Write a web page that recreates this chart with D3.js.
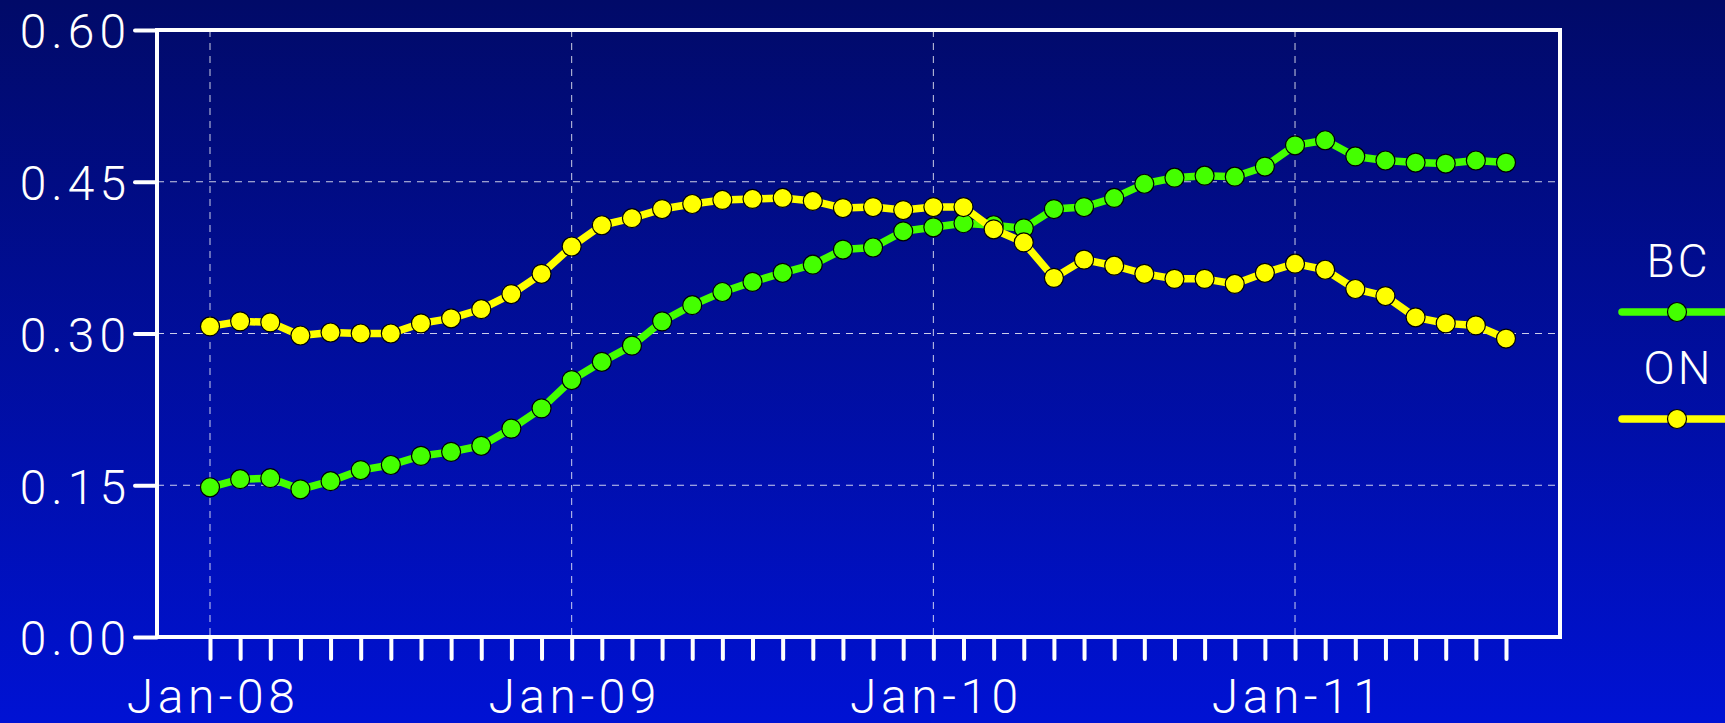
<!DOCTYPE html>
<html>
<head>
<meta charset="utf-8">
<script src="https://cdn.jsdelivr.net/npm/d3@7"></script>
<style>
  html, body { margin: 0; padding: 0; overflow: hidden; background: #000a6a; }
  svg { display: block; }
  text { font-family: Roboto, "Open Sans", "DejaVu Sans", sans-serif; font-weight: 300; fill: #ffffff; }
</style>
</head>
<body>
<svg id="chart" width="1725" height="723"></svg>
<script>
// Monthly series, Jan-2008 to Aug-2011
const months = [
  "2008-01","2008-02","2008-03","2008-04","2008-05","2008-06","2008-07","2008-08","2008-09","2008-10","2008-11","2008-12",
  "2009-01","2009-02","2009-03","2009-04","2009-05","2009-06","2009-07","2009-08","2009-09","2009-10","2009-11","2009-12",
  "2010-01","2010-02","2010-03","2010-04","2010-05","2010-06","2010-07","2010-08","2010-09","2010-10","2010-11","2010-12",
  "2011-01","2011-02","2011-03","2011-04","2011-05","2011-06","2011-07","2011-08"
];
const bcValues = [
  0.148,0.156,0.157,0.146,0.154,0.165,0.170,0.179,0.183,0.189,0.206,0.226,
  0.254,0.272,0.288,0.312,0.328,0.341,0.351,0.360,0.368,0.383,0.385,0.401,
  0.405,0.409,0.407,0.404,0.423,0.425,0.434,0.448,0.454,0.456,0.455,0.465,
  0.486,0.491,0.475,0.471,0.469,0.468,0.471,0.469
];
const onValues = [
  0.307,0.312,0.311,0.298,0.301,0.300,0.300,0.310,0.315,0.324,0.339,0.359,
  0.386,0.407,0.414,0.423,0.428,0.432,0.433,0.434,0.431,0.424,0.425,0.422,
  0.425,0.425,0.403,0.390,0.355,0.373,0.367,0.359,0.354,0.354,0.349,0.360,
  0.369,0.363,0.344,0.337,0.316,0.310,0.308,0.295
];
const seriesNames = ["BC", "ON"];
const seriesColors = ["#44ff00", "#ffff00"];
const yTicks = [0, 0.15, 0.30, 0.45, 0.60];
const janLabels = { "2008-01": "Jan-08", "2009-01": "Jan-09", "2010-01": "Jan-10", "2011-01": "Jan-11" };

const W = 1725, H = 723;
const frame = { left: 157, right: 1560, top: 30, bottom: 637 };

const svg = d3.select("#chart");

// Background: vertical gradient from deep navy to bright blue
const defs = svg.append("defs");
const grad = defs.append("linearGradient").attr("id", "bg").attr("x1", 0).attr("y1", 0).attr("x2", 0).attr("y2", 1);
grad.append("stop").attr("offset", "0%").attr("stop-color", "#010a68");
grad.append("stop").attr("offset", "100%").attr("stop-color", "#0012d4");
svg.append("rect").attr("width", W).attr("height", H).attr("fill", "url(#bg)");

const x = d3.scalePoint().domain(months).range([210, 1506]);
const y = d3.scaleLinear().domain([0, 0.6]).range([frame.bottom, frame.top]);

// Gridlines
const grid = svg.append("g").attr("stroke", "#ffffff").attr("stroke-opacity", 0.8)
  .attr("stroke-width", 1).attr("stroke-dasharray", "7,6");
grid.selectAll("line.h").data(yTicks.filter(d => d > 0 && d < 0.6)).join("line")
  .attr("x1", frame.left).attr("x2", frame.right)
  .attr("y1", d => y(d)).attr("y2", d => y(d));
grid.selectAll("line.v").data(months.filter(m => janLabels[m])).join("line")
  .attr("x1", d => x(d)).attr("x2", d => x(d))
  .attr("y1", frame.top).attr("y2", frame.bottom);

// Plot frame
svg.append("rect")
  .attr("x", frame.left).attr("y", frame.top)
  .attr("width", frame.right - frame.left).attr("height", frame.bottom - frame.top)
  .attr("fill", "none").attr("stroke", "#ffffff").attr("stroke-width", 4);

// Y axis
const yAxis = svg.append("g").attr("transform", `translate(${frame.left},0)`)
  .call(d3.axisLeft(y).tickValues(yTicks).tickFormat(d3.format(".2f")).tickSize(22).tickPadding(4));
yAxis.select(".domain").remove();
yAxis.selectAll(".tick line").attr("stroke", "#ffffff").attr("stroke-width", 4).attr("stroke-linecap", "round");
yAxis.selectAll(".tick text")
  .attr("fill", "#ffffff").attr("font-size", 48).attr("letter-spacing", 5)
  .attr("dy", "0.37em").attr("font-family", null);

// X axis: a tick for every month, labels on January
const xAxis = svg.append("g").attr("transform", `translate(0,${frame.bottom})`)
  .call(d3.axisBottom(x).tickSize(22).tickPadding(20).tickFormat(m => janLabels[m] || ""));
xAxis.select(".domain").remove();
xAxis.selectAll(".tick line").attr("stroke", "#ffffff").attr("stroke-width", 4).attr("stroke-linecap", "round");
xAxis.selectAll(".tick text")
  .attr("fill", "#ffffff").attr("font-size", 48).attr("letter-spacing", 4.5)
  .attr("dx", 2.5).attr("font-family", null);

// Series lines with circle markers
const seriesData = [bcValues, onValues];
const line = d3.line().x((d, i) => x(months[i])).y(d => y(d));
seriesData.forEach((vals, s) => {
  const g = svg.append("g");
  g.append("path").datum(vals)
    .attr("d", line).attr("fill", "none")
    .attr("stroke", seriesColors[s]).attr("stroke-width", 7.5).attr("stroke-linejoin", "round");
  g.selectAll("circle").data(vals).join("circle")
    .attr("cx", (d, i) => x(months[i])).attr("cy", d => y(d)).attr("r", 9.5)
    .attr("fill", seriesColors[s]).attr("stroke", "#000000").attr("stroke-width", 1.2);
});

// Legend
const legend = svg.append("g");
seriesNames.forEach((name, s) => {
  const cy = 260 + s * 107;
  legend.append("text").attr("x", 1677).attr("y", cy).attr("dy", "0.36em").attr("dx", 1.5)
    .attr("text-anchor", "middle").attr("font-size", 46).attr("letter-spacing", 3).text(name);
  legend.append("line").attr("x1", 1622).attr("x2", 1760).attr("y1", cy + 52).attr("y2", cy + 52)
    .attr("stroke", seriesColors[s]).attr("stroke-width", 7.5).attr("stroke-linecap", "round");
  legend.append("circle").attr("cx", 1677).attr("cy", cy + 52).attr("r", 9.5)
    .attr("fill", seriesColors[s]).attr("stroke", "#000000").attr("stroke-width", 1.2);
});
</script>
</body>
</html>
